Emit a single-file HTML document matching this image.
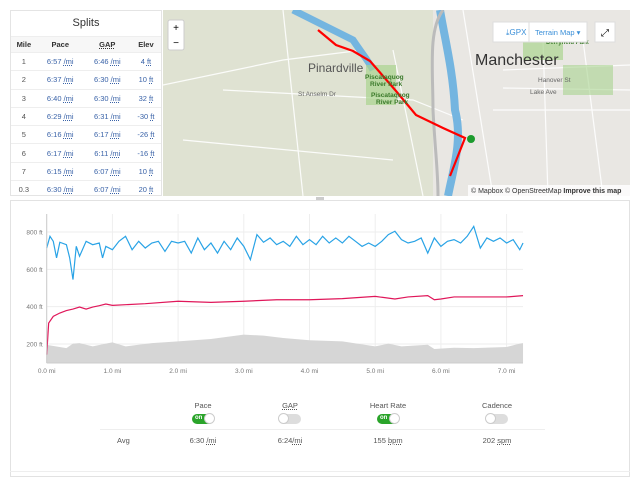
<!DOCTYPE html>
<html><head><meta charset="utf-8"><style>
body{margin:0;width:640px;height:486px;background:#fff;font-family:"Liberation Sans",sans-serif;position:relative;overflow:hidden}
.abs{position:absolute}
#splits{left:10px;top:10px;width:152px;height:186px;border:1px solid #e4e4e4;box-sizing:border-box;background:#fff}
#splits table{border-collapse:collapse;width:100%;font-size:7.5px;color:#555}
#splits td,#splits th{text-align:center;height:17.3px;padding:0;border-top:1px solid #eee}
#splits th{background:#f7f7f7;font-weight:bold;color:#333;height:15px}
.u{text-decoration:underline dotted;}
.b{color:#3a63a8}
#chartbox{left:10px;top:200px;width:620px;height:277px;border:1px solid #e2e2e2;box-sizing:border-box}
.lab{font-size:7.5px;color:#555;text-align:center;width:80px;position:absolute}
.tg{position:absolute;width:22px;height:10px;border-radius:5px;background:#ddd}
.tg.on{background:#2aa42a}
.tg i{position:absolute;top:-1px;width:11px;height:11px;border-radius:6px;background:#fff;border:1px solid #ccc;box-sizing:border-box}
.tg.on b{position:absolute;left:3px;top:1px;font-size:6px;color:#fff}
</style></head><body>
<div id="splits" class="abs">
<div style="text-align:center;font-size:11px;color:#333;height:25px;line-height:25px">Splits</div>
<table>
<tr><th>Mile</th><th>Pace</th><th class="u">GAP</th><th>Elev</th></tr>
<tr><td>1</td><td class="b">6:57 <span class="u">/mi</span></td><td class="b">6:46 <span class="u">/mi</span></td><td class="b">4 <span class="u">ft</span></td></tr>
<tr><td>2</td><td class="b">6:37 <span class="u">/mi</span></td><td class="b">6:30 <span class="u">/mi</span></td><td class="b">10 <span class="u">ft</span></td></tr>
<tr><td>3</td><td class="b">6:40 <span class="u">/mi</span></td><td class="b">6:30 <span class="u">/mi</span></td><td class="b">32 <span class="u">ft</span></td></tr>
<tr><td>4</td><td class="b">6:29 <span class="u">/mi</span></td><td class="b">6:31 <span class="u">/mi</span></td><td class="b">-30 <span class="u">ft</span></td></tr>
<tr><td>5</td><td class="b">6:16 <span class="u">/mi</span></td><td class="b">6:17 <span class="u">/mi</span></td><td class="b">-26 <span class="u">ft</span></td></tr>
<tr><td>6</td><td class="b">6:17 <span class="u">/mi</span></td><td class="b">6:11 <span class="u">/mi</span></td><td class="b">-16 <span class="u">ft</span></td></tr>
<tr><td>7</td><td class="b">6:15 <span class="u">/mi</span></td><td class="b">6:07 <span class="u">/mi</span></td><td class="b">10 <span class="u">ft</span></td></tr>
<tr><td>0.3</td><td class="b">6:30 <span class="u">/mi</span></td><td class="b">6:07 <span class="u">/mi</span></td><td class="b">20 <span class="u">ft</span></td></tr>
</table></div>

<svg class="abs" style="left:163px;top:10px" width="467" height="186">
<rect width="467" height="186" fill="#dfe2d2"/>
<rect x="270" width="197" height="186" fill="#e9e7e3"/>
<g stroke="#fff" stroke-width="1.2" fill="none" opacity="0.9">
<path d="M0 75 L120 50 L200 40"/><path d="M60 80 L250 90 L300 110"/><path d="M120 0 L140 186"/><path d="M230 40 L260 186"/>
<path d="M300 0 L330 186"/><path d="M340 60 L467 55"/><path d="M340 78 L467 80"/><path d="M330 100 L467 100"/><path d="M380 30 L385 186"/><path d="M420 30 L440 186"/><path d="M20 130 L230 150"/>
</g>
<path d="M130 0 C150 10 170 20 190 30 C200 45 205 50 210 60" stroke="#74b5e0" stroke-width="7" fill="none"/>
<path d="M277 0 C282 30 290 60 292 100 C300 130 290 160 285 186" stroke="#74b5e0" stroke-width="8" fill="none"/>
<path d="M280 0 C265 20 270 60 270 100 C272 140 275 160 275 186" stroke="#bbb" stroke-width="3" fill="none"/>
<rect x="203" y="55" width="30" height="40" fill="#a9d48f" opacity="0.7"/>
<rect x="360" y="25" width="40" height="25" fill="#a9d48f" opacity="0.7"/>
<rect x="400" y="55" width="50" height="30" fill="#a9d48f" opacity="0.6"/>
<path d="M155 20 L173 35 L190 41 L207 51 L233 81 L253 105 L280 118 L302 128 L287 166" stroke="#f00" stroke-width="2.2" fill="none"/>
<circle cx="308" cy="129" r="4" fill="#1c9b2e"/>
<text x="145" y="62" font-size="12" fill="#555">Pinardville</text>
<text x="312" y="55" font-size="16" fill="#333">Manchester</text>
<text x="202" y="69" font-size="6.5" fill="#3a7a2a" font-weight="bold">Piscataquog</text>
<text x="207" y="76" font-size="6.5" fill="#3a7a2a" font-weight="bold">River Park</text>
<text x="208" y="87" font-size="6.5" fill="#3a7a2a" font-weight="bold">Piscataquog</text>
<text x="213" y="94" font-size="6.5" fill="#3a7a2a" font-weight="bold">River Park</text>
<text x="383" y="34" font-size="6" fill="#3a7a2a" font-weight="bold">Derryfield Park</text>
<text x="135" y="86" font-size="6.5" fill="#666">St Anselm Dr</text>
<text x="367" y="84" font-size="6.5" fill="#666">Lake Ave</text>
<text x="375" y="72" font-size="6.5" fill="#666">Hanover St</text>
<g><rect x="5" y="10" width="16" height="30" rx="2" fill="#fff" stroke="#ccc"/><text x="13" y="21" font-size="10" text-anchor="middle">+</text><text x="13" y="36" font-size="10" text-anchor="middle">−</text></g>
<g><rect x="330" y="12" width="36" height="20" fill="#fff" stroke="#ddd"/><text x="343" y="25" font-size="8" fill="#3a8fd8">⤓GPX</text></g>
<g><rect x="366" y="12" width="58" height="20" fill="#fff" stroke="#ddd"/><text x="372" y="25" font-size="7.5" fill="#3a8fd8">Terrain Map ▾</text></g>
<g><rect x="432" y="12" width="20" height="20" fill="#fff" stroke="#ddd"/><text x="442" y="26" font-size="10" text-anchor="middle">⤢</text></g>
<rect x="305" y="175" width="162" height="11" fill="#fff" opacity="0.8"/>
<text x="308" y="183" font-size="7" fill="#333">© Mapbox © OpenStreetMap <tspan font-weight="bold">Improve this map</tspan></text>
</svg>

<div id="chartbox" class="abs"></div>
<div class="abs" style="left:316px;top:197px;width:8px;height:3px;background:#ccc"></div>

<svg class="abs" id="chart" style="left:0;top:200px" width="640" height="180"></svg>

<div class="lab" style="left:163px;top:401px">Pace</div>
<div class="tg on" style="left:192px;top:414px"><b>on</b><i style="left:12px"></i></div>
<div class="lab" style="left:250px;top:401px;text-decoration:underline dotted">GAP</div>
<div class="tg" style="left:279px;top:414px"><i style="left:-1px"></i></div>
<div class="lab" style="left:348px;top:401px">Heart Rate</div>
<div class="tg on" style="left:377px;top:414px"><b>on</b><i style="left:12px"></i></div>
<div class="lab" style="left:457px;top:401px">Cadence</div>
<div class="tg" style="left:486px;top:414px"><i style="left:-1px"></i></div>
<div class="abs" style="left:100px;top:429px;width:445px;height:1px;background:#eee"></div>
<div class="abs" style="left:117px;top:436px;font-size:7.5px;color:#555">Avg</div>
<div class="lab" style="left:163px;top:436px">6:30 <span class="u">/mi</span></div>
<div class="lab" style="left:250px;top:436px">6:24<span class="u">/mi</span></div>
<div class="lab" style="left:348px;top:436px">155 <span class="u">bpm</span></div>
<div class="lab" style="left:457px;top:436px">202 <span class="u">spm</span></div>
<div class="abs" style="left:10px;top:471px;width:620px;height:1px;background:#eee"></div>

<script>
const xTicks=[0,1,2,3,4,5,6,7];
const yTicks=[200,400,600,800];
const paceDist=[0,0.05,0.1,0.15,0.2,0.3,0.35,0.4,0.45,0.5,0.6,0.7,0.8,0.85,0.9,1.0,1.1,1.2,1.3,1.4,1.5,1.6,1.7,1.8,1.9,2.0,2.1,2.2,2.3,2.4,2.5,2.6,2.7,2.8,2.9,3.0,3.1,3.2,3.3,3.4,3.5,3.6,3.7,3.8,3.9,4.0,4.1,4.2,4.3,4.4,4.5,4.6,4.7,4.8,4.9,5.0,5.1,5.2,5.3,5.4,5.5,5.6,5.7,5.8,5.9,6.0,6.1,6.2,6.3,6.4,6.5,6.6,6.7,6.8,6.9,7.0,7.1,7.2,7.25];
const paceVals=[714,777,750,661,745,732,661,545,723,670,750,732,741,661,723,705,750,777,705,750,714,741,750,696,750,741,750,687,768,705,741,687,750,705,768,723,652,786,745,768,732,750,723,777,732,759,732,777,741,768,741,777,750,723,741,723,750,786,804,759,741,750,768,687,768,723,750,759,741,777,830,714,768,750,768,741,759,705,741];
const hrDist=[0,0.03,0.1,0.2,0.3,0.4,0.5,0.6,0.7,0.8,0.9,1.0,1.5,2.0,2.5,3.0,3.5,4.0,4.5,5.0,5.3,5.5,5.8,5.9,6.0,6.2,6.5,7.0,7.25];
const hrVals=[143,312,348,366,379,387,398,387,398,405,414,407,416,429,423,429,437,437,443,455,441,452,459,437,441,452,452,452,459];
const elevDist=[0,0.3,0.4,0.5,0.7,0.9,1.0,1.2,1.4,1.6,2.0,2.5,3.0,3.3,3.6,4.0,4.5,5.0,5.2,5.4,5.8,5.9,6.2,6.5,7.0,7.2,7.25];
const elevVals=[195,178,202,205,187,202,209,187,196,205,214,227,250,245,232,220,214,187,202,187,196,173,180,178,184,202,205];

const NS="http://www.w3.org/2000/svg",svg=document.getElementById('chart');
const X0=46.7,PX=65.7,XEND=523,BASE=95;
const xs=d=>X0+d*PX, ys=v=>144-(v-200)*0.1867;
function mk(t,a){const e=document.createElementNS(NS,t);for(const k in a)e.setAttribute(k,a[k]);svg.appendChild(e);return e;}
yTicks.forEach(v=>{
 const g=mk('line',{x1:X0,x2:XEND,y1:ys(v),y2:ys(v),stroke:'#eee'});
 
 
 const t=mk('text',{x:X0-4,y:ys(v)+2.5,'font-size':6.5,fill:'#777','text-anchor':'end'});t.textContent=v+' ft';
 
 
});
xTicks.forEach(d=>{
 const g=mk('line',{x1:xs(d),x2:xs(d),y1:14,y2:163,stroke:'#eee'});
 
 
 const t=mk('text',{x:xs(d),y:173,'font-size':6.5,fill:'#777','text-anchor':'middle'});t.textContent=d.toFixed(1)+' mi';
 
 
});
let ep='M'+xs(elevDist[0])+' 163';
elevDist.forEach((d,i)=>ep+=' L'+xs(d)+' '+ys(elevVals[i]));
ep+=' L'+xs(elevDist[elevDist.length-1])+' 163 Z';
const el=mk('path',{d:ep,fill:'#d6d6d6'});


function line(ds,vs,c,name){
 const p=mk('path',{d:ds.map((d,i)=>(i?'L':'M')+xs(d)+' '+ys(vs[i])).join(' '),fill:'none',stroke:c,'stroke-width':1.2});
 
 
}
line(paceDist,paceVals,'#29a3e6','pace-line');
line(hrDist,hrVals,'#e0175a','heart-rate-line');
const ax=mk('line',{x1:X0,x2:XEND,y1:163,y2:163,stroke:'#ccc'});


const ay=mk('line',{x1:X0,x2:X0,y1:14,y2:163,stroke:'#ccc'});


</script>
</body></html>
